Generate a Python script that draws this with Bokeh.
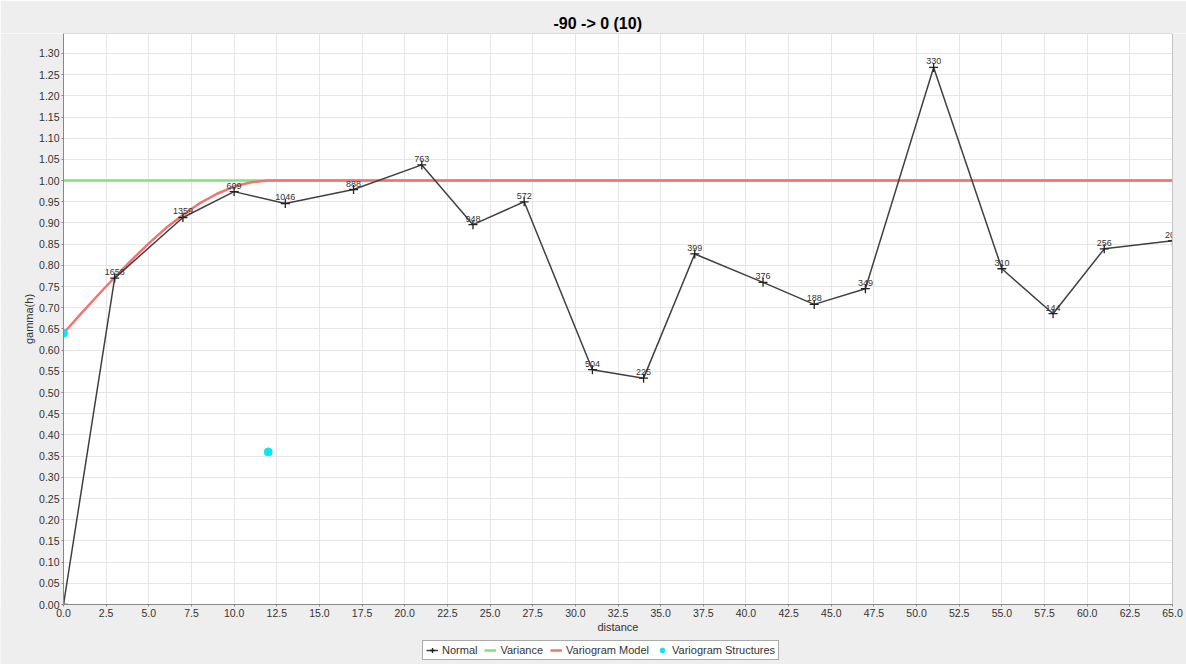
from bokeh.plotting import figure
from bokeh.models import (Range1d, SingleIntervalTicker, NumeralTickFormatter,
                          Legend, LegendItem, ColumnDataSource)
from bokeh.core.properties import value
from bokeh.embed import file_html
from bokeh.resources import INLINE

# ---- data ----
lag_distance = [0, 3, 7, 10, 13, 17, 21, 24, 27, 31, 34, 37, 41, 44, 47, 51, 55, 58, 61, 65]
gamma = [0.0, 0.770, 0.913, 0.974, 0.946, 0.979, 1.037, 0.896, 0.950, 0.554, 0.534,
         0.827, 0.760, 0.708, 0.745, 1.267, 0.792, 0.686, 0.839, 0.858]
pair_counts = ["", "1658", "1359", "609", "1046", "888", "763", "948", "572", "504", "225",
               "399", "376", "188", "349", "330", "310", "144", "256", "203"]

variance_x = [0, 65]
variance_y = [1.0, 1.0]

model_x = [0, 1, 2, 3, 4, 5, 6, 7, 8, 9, 10, 11, 12, 65]
model_y = [0.640, 0.685, 0.729, 0.772, 0.813, 0.852, 0.888, 0.919, 0.947, 0.969, 0.986,
           0.996, 1.000, 1.000]

structures_x = [0, 12]
structures_y = [0.64, 0.36]

FONT = "Liberation Sans"
PANEL = "#eeeeee"

# data region [0, 65] x [0, 1.347]; the frame is extended to the whole canvas so that
# the axes (drawn at fixed locations) and the legend can sit in the panel-coloured margins
DATA_X = (0, 65)
DATA_Y = (0, 1.347)
X_MIN, X_MAX = -3.6925, 65.8205
Y_MIN, Y_MAX = -0.1415, 1.347

p = figure(frame_width=1186, frame_height=631, output_backend="svg", toolbar_location=None,
           x_range=Range1d(X_MIN, X_MAX), y_range=Range1d(Y_MIN, Y_MAX),
           min_border_left=0, min_border_right=0, min_border_top=33, min_border_bottom=0,
           title="-90 -> 0 (10)")
p.border_fill_color = PANEL
p.background_fill_color = "white"
p.outline_line_color = None

p.title.align = "left"
p.title.offset = 553
p.title.text_font = FONT
p.title.text_font_size = "16px"
p.title.text_font_style = "bold"
p.title.text_color = "black"
p.title.standoff = 4

for ax in (p.xaxis[0], p.yaxis[0]):
    ax.major_label_text_font = FONT
    ax.major_label_text_font_size = "10.5px"
    ax.major_label_text_color = "#333333"
    ax.axis_label_text_font = FONT
    ax.axis_label_text_font_size = "11px"
    ax.axis_label_text_font_style = "normal"
    ax.axis_label_text_color = "#333333"
    ax.axis_line_color = "#888888"
    ax.major_tick_line_color = "#888888"
    ax.major_tick_in = 0
    ax.major_tick_out = 2
    ax.minor_tick_line_color = None
    ax.minor_tick_out = 0
    ax.major_label_standoff = 2
    ax.axis_label_standoff = 1

p.xaxis.fixed_location = 0
p.yaxis.fixed_location = 0
p.xaxis.bounds = DATA_X
p.yaxis.bounds = DATA_Y

p.xaxis.ticker = SingleIntervalTicker(interval=2.5)
p.yaxis.ticker = SingleIntervalTicker(interval=0.05)
p.xaxis.formatter = NumeralTickFormatter(format="0.0")
p.yaxis.formatter = NumeralTickFormatter(format="0.00")
p.xaxis.axis_label = "distance"
p.yaxis.axis_label = "gamma(h)"

p.xgrid.ticker = SingleIntervalTicker(interval=2.5)
p.ygrid.ticker = SingleIntervalTicker(interval=0.05)
p.grid.grid_line_color = "#e6e6e6"
p.grid.grid_line_width = 1

src = ColumnDataSource(dict(x=lag_distance, y=gamma, lab=pair_counts))

r_var = p.line(variance_x, variance_y, line_color="#7be57b", line_width=2.5)
r_model = p.line(model_x, model_y, line_color="#f07474", line_width=2.5)
r_norm_line = p.line("x", "y", source=src, line_color="#404040", line_width=1.5)
r_norm_pts = p.scatter("x", "y", source=src, marker="cross", size=9,
                       line_color="#222222", line_width=1.3)
p.text("x", "y", text="lab", source=src, text_font=value(FONT), text_font_size="9px",
       text_color="#333333", text_align="center", text_baseline="bottom", y_offset=-3)
r_struct = p.scatter(structures_x, structures_y, marker="circle", size=8,
                     fill_color="#10e4f0", line_color="#10e4f0")

# panel-coloured margins around the data region (drawn over the data, so marks clip there)
p.quad(left=[X_MIN, DATA_X[1], X_MIN], right=[DATA_X[0], X_MAX, X_MAX],
       bottom=[Y_MIN, Y_MIN, Y_MIN], top=[Y_MAX, Y_MAX, DATA_Y[0]],
       fill_color=PANEL, line_color=None)
# light outline of the data region
p.quad(left=[DATA_X[0]], right=[DATA_X[1]], bottom=[DATA_Y[0]], top=[DATA_Y[1]],
       fill_color=None, line_color="#c4c4c4", line_width=1)

legend = Legend(items=[
    LegendItem(label=value("Normal"), renderers=[r_norm_line, r_norm_pts]),
    LegendItem(label=value("Variance"), renderers=[r_var]),
    LegendItem(label=value("Variogram Model"), renderers=[r_model]),
    LegendItem(label=value("Variogram Structures"), renderers=[r_struct]),
], orientation="horizontal", location=(422, 4))
legend.label_text_font = FONT
legend.label_text_font_size = "11px"
legend.label_text_color = "#333333"
legend.glyph_width = 12
legend.glyph_height = 12
legend.label_standoff = 4
legend.spacing = 7
legend.padding = 3
legend.margin = 0
legend.label_height = 12
legend.border_line_color = "#555555"
legend.border_line_width = 1
legend.background_fill_color = "white"
legend.background_fill_alpha = 1
p.add_layout(legend, "center")

open("out.html", "w").write(file_html(p, INLINE))
